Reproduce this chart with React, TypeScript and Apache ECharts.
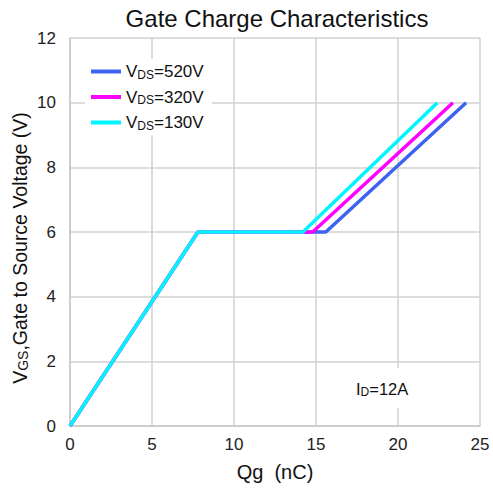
import React, { useEffect, useRef } from "react";
import * as echarts from "echarts";

const vdsLabels = ["520V", "320V", "130V"];
const seriesColors = ["#3c64f0", "#ff00ff", "#00f5ff"];
const qg520 = [0, 7.8, 15.6, 24.15];
const qg320 = [0, 7.8, 14.8, 23.35];
const qg130 = [0, 7.8, 14.2, 22.4];
const vgsValues = [0, 6, 6, 10];
const xTicks = { min: 0, max: 25, interval: 5 };
const yTicks = { min: 0, max: 12, interval: 2 };

const FONT = "Liberation Sans, Arial, sans-serif";

export default function App() {
  const ref = useRef<HTMLDivElement>(null);
  useEffect(() => {
    if (!ref.current) return;
    document.body.style.margin = "0";
    const chart = echarts.init(ref.current, null, { renderer: "svg" });
    const qgs = [qg520, qg320, qg130];
    const names = vdsLabels.map((v) => "VDS=" + v);
    const series = qgs.map((qg, i) => ({
      name: names[i],
      type: "line",
      symbol: "none",
      data: qg.map((x, j) => [x, vgsValues[j]]),
      lineStyle: { color: seriesColors[i], width: 3.5 },
      itemStyle: { color: seriesColors[i] },
      z: 2 + i,
    }));
    const rich = {
      a: { fontSize: 17, fontFamily: FONT, color: "#111" },
      s: { fontSize: 12, fontFamily: FONT, color: "#111", verticalAlign: "bottom", padding: [6, 0, 0, 0] },
    };
    chart.setOption({
      animation: false,
      backgroundColor: "#fff",
      title: {
        text: "Gate Charge Characteristics",
        left: 272,
        textAlign: "center",
        top: 1,
        textStyle: { fontFamily: FONT, fontSize: 24, fontWeight: "normal", color: "#111" },
      },
      grid: { left: 70, right: 13, top: 38, bottom: 64 },
      legend: {
        orient: "vertical",
        left: 85,
        top: 59,
        icon: "rect",
        itemWidth: 30,
        itemHeight: 4,
        itemGap: 8,
        backgroundColor: "#fff",
        padding: [4, 8, 4, 6],
        data: names,
        formatter: (n: string) => "{a|V}{s|DS}{a|" + n.slice(3) + "}",
        textStyle: { rich },
      },
      xAxis: {
        type: "value",
        min: xTicks.min,
        max: xTicks.max,
        interval: xTicks.interval,
        name: "Qg  (nC)",
        nameLocation: "middle",
        nameGap: 36,
        nameTextStyle: { fontFamily: FONT, fontSize: 20, color: "#111" },
        axisLine: { lineStyle: { color: "#c8c8c8", width: 1.5 } },
        axisTick: { show: false },
        axisLabel: { fontFamily: FONT, fontSize: 17, color: "#222", margin: 10 },
        splitLine: { show: true, lineStyle: { color: "#d0d0d0", width: 1.5 } },
      },
      yAxis: {
        type: "value",
        min: yTicks.min,
        max: yTicks.max,
        interval: yTicks.interval,
        axisLine: { show: true, lineStyle: { color: "#c8c8c8", width: 1.5 } },
        axisTick: { show: false },
        axisLabel: { fontFamily: FONT, fontSize: 17, color: "#222", margin: 14 },
        splitLine: { show: true, lineStyle: { color: "#d0d0d0", width: 1.5 } },
      },
      graphic: [
        {
          type: "text",
          x: 20,
          y: 248,
          rotation: Math.PI / 2,
          style: {
            text: "{a|V}{s|GS}{a|,Gate to Source Voltage (V)}",
            align: "center",
            verticalAlign: "middle",
            rich: {
              a: { fontSize: 19.5, fontFamily: FONT, fill: "#111" },
              s: { fontSize: 14, fontFamily: FONT, fill: "#111", verticalAlign: "bottom", padding: [6, 0, 0, 0] },
            },
          },
        },
        {
          type: "rect",
          shape: { x: 340, y: 368, width: 80, height: 40 },
          style: { fill: "#fff" },
          z: 1,
        },
        {
          type: "text",
          x: 356,
          y: 389,
          z: 10,
          style: {
            text: "{a|I}{s|D}{a|=12A}",
            verticalAlign: "middle",
            rich: {
              a: { fontSize: 16.5, fontFamily: FONT, fill: "#111" },
              s: { fontSize: 12, fontFamily: FONT, fill: "#111", verticalAlign: "bottom", padding: [5, 0, 0, 0] },
            },
          },
        },
      ],
      series,
    });
    return () => chart.dispose();
  }, []);
  return <div ref={ref} style={{ width: 493, height: 490 }} />;
}
